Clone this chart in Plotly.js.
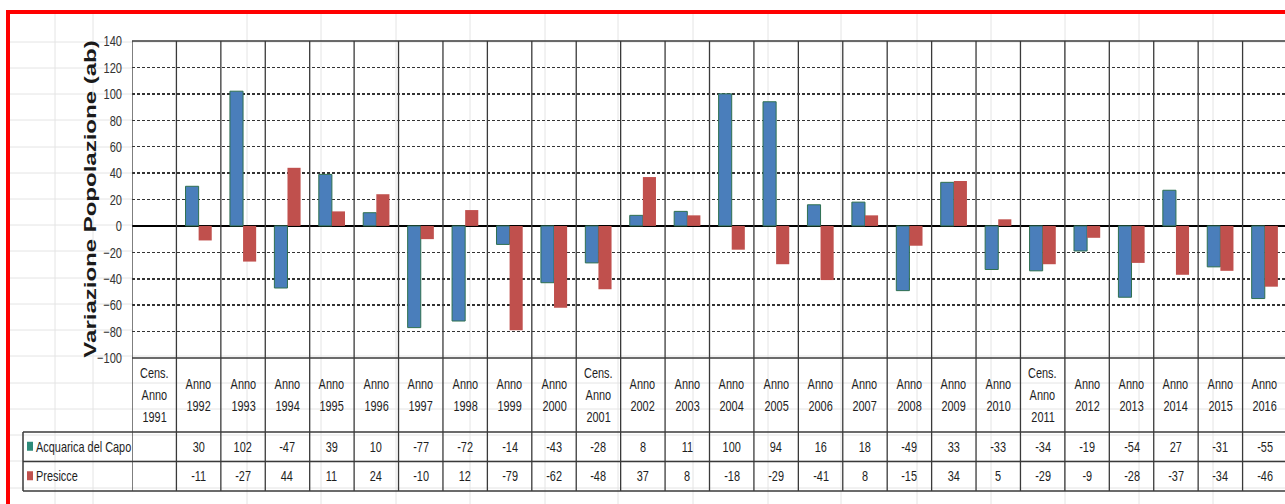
<!DOCTYPE html>
<html>
<head>
<meta charset="utf-8">
<script src="https://cdn.plot.ly/plotly-3.0.1.min.js"></script>
<style>
html,body{margin:0;padding:0;background:#fff;overflow:hidden;}
#chart{width:1292px;height:504px;}
</style>
</head>
<body>
<div id="chart"></div>
<script>
// ---- data ----
const categories = ["Cens. Anno 1991","Anno 1992","Anno 1993","Anno 1994","Anno 1995","Anno 1996","Anno 1997","Anno 1998","Anno 1999","Anno 2000","Cens. Anno 2001","Anno 2002","Anno 2003","Anno 2004","Anno 2005","Anno 2006","Anno 2007","Anno 2008","Anno 2009","Anno 2010","Cens. Anno 2011","Anno 2012","Anno 2013","Anno 2014","Anno 2015","Anno 2016"];
const seriesNames = ["Acquarica del Capo","Presicce"];
const acquarica = [null,30,102,-47,39,10,-77,-72,-14,-43,-28,8,11,100,94,16,18,-49,33,-33,-34,-19,-54,27,-31,-55];
const presicce  = [null,-11,-27,44,11,24,-10,12,-79,-62,-48,37,8,-18,-29,-41,8,-15,34,5,-29,-9,-28,-37,-34,-46];
const yTitle = "Variazione Popolazione (ab)";

// ---- layout geometry (pixels) ----
const W = 1292, H = 504;
const L = 132, R = 1287, T = 41, B = 491;
const chartBottom = 358, labelBottom = 432, row1Bottom = 461.5;
const px2x = p => (p - L) / (R - L);
const px2y = p => (B - p) / (B - T);

const FONT = '"Liberation Sans", Arial, sans-serif';
const TXT = '#1e1e1e', LINE = '#3a3a3a';
const BLUE = '#4a7ebb', BLUE_EDGE = '#2f7050', TEAL = '#2e8b7a', RED = '#c0504d';

const traces = [
  {type:'bar', name:seriesNames[0], x:categories, y:acquarica,
   marker:{color:BLUE, line:{color:BLUE_EDGE, width:1}}, hoverinfo:'x+y'},
  {type:'bar', name:seriesNames[1], x:categories, y:presicce,
   marker:{color:RED, line:{color:RED, width:0}}, hoverinfo:'x+y'}
];

const shapes = [];
const annotations = [];

// faint spreadsheet grid behind everything
const sheetCols = [55, 93, 247, 321, 396, 470, 545, 618, 693, 768, 841, 917, 991, 1065, 1139, 1213];
const sheetRows = [42, 68, 94, 120, 147, 173, 199, 225, 251, 278, 304, 330, 356, 383, 409, 435, 461, 488];
sheetCols.forEach(c => shapes.push({type:'line', xref:'paper', yref:'paper', layer:'below',
  x0:px2x(c), x1:px2x(c), y0:px2y(14), y1:px2y(510), line:{color:'#e4e4e4', width:1}}));
sheetRows.forEach(r => {
  const inside = r > T + 2 && r < chartBottom - 2;
  shapes.push({type:'line', xref:'paper', yref:'paper', layer:'below',
    x0:px2x(10), x1: inside ? 0 : px2x(1300), y0:px2y(r), y1:px2y(r), line:{color:'#e4e4e4', width:1}});
});

// vertical category boundaries through chart and table
for (let k = 0; k <= categories.length; k++) {
  shapes.push({type:'line', xref:'x', yref:'paper', layer:'above',
    x0:k-0.5, x1:k-0.5, y0:0, y1:1, line:{color:LINE, width:1.3}});
}
// horizontal frame/table lines
shapes.push({type:'line', xref:'paper', yref:'paper', x0:0, x1:1.01, y0:1, y1:1, line:{color:LINE, width:1.5}});
shapes.push({type:'line', xref:'paper', yref:'paper', x0:0, x1:1.01, y0:px2y(chartBottom), y1:px2y(chartBottom), line:{color:LINE, width:1.5}});
[labelBottom, row1Bottom, B].forEach(p => shapes.push({type:'line', xref:'paper', yref:'paper',
  x0:px2x(23), x1:1.01, y0:px2y(p), y1:px2y(p), line:{color:LINE, width:1.5}}));
shapes.push({type:'line', xref:'paper', yref:'paper', x0:px2x(23), x1:px2x(23),
  y0:px2y(labelBottom), y1:px2y(B), line:{color:LINE, width:1.5}});

// legend keys in table
const rowMid = [(labelBottom + row1Bottom)/2, (row1Bottom + B)/2];
[TEAL, RED].forEach((c, i) => shapes.push({type:'rect', xref:'paper', yref:'paper',
  x0:px2x(27), x1:px2x(33), y0:px2y(rowMid[i]-5), y1:px2y(rowMid[i]+4),
  fillcolor:c, line:{width:0}}));
seriesNames.forEach((n, i) => annotations.push({xref:'paper', yref:'paper',
  x:px2x(34), y:px2y(rowMid[i]), xanchor:'left', yanchor:'middle', showarrow:false,
  text:n, font:{family:FONT, size:14, color:TXT}, name:'legendlabel'}));

// red frame
shapes.push({type:'path', xref:'paper', yref:'paper', layer:'above',
  path:`M ${px2x(8)} ${px2y(520)} L ${px2x(8)} ${px2y(12)} L ${px2x(1300)} ${px2y(12)}`,
  line:{color:'#ff0000', width:4}});

// category labels (one annotation per line) and table values
const labelMid = (chartBottom + labelBottom)/2;
const lineGap = 22;
categories.forEach((c, k) => {
  const lines = c.split(' ');
  lines.forEach((ln, j) => {
    const off = (j - (lines.length - 1)/2) * lineGap;
    annotations.push({xref:'x', yref:'paper', x:c, y:px2y(labelMid + off),
      xanchor:'center', yanchor:'middle', showarrow:false, text:ln,
      font:{family:FONT, size:14, color:TXT}});
  });
  [acquarica, presicce].forEach((s, i) => {
    if (s[k] === null) return;
    annotations.push({xref:'x', yref:'paper', x:c, y:px2y(rowMid[i]),
      xanchor:'center', yanchor:'middle', showarrow:false, text:String(s[k]),
      font:{family:FONT, size:14, color:TXT}});
  });
});

const layout = {
  width:W, height:H,
  margin:{l:L, r:W-R, t:T, b:H-B, pad:0},
  paper_bgcolor:'#ffffff', plot_bgcolor:'rgba(0,0,0,0)',
  showlegend:false,
  barmode:'group', bargap:0.41, bargroupgap:0,
  xaxis:{type:'category', range:[-0.5, categories.length-0.5], showticklabels:false,
    showgrid:false, zeroline:false, showline:false, ticks:'', fixedrange:true},
  yaxis:{domain:[px2y(chartBottom), 1], range:[-100, 140], dtick:20, tick0:0,
    showgrid:true, gridcolor:'#333333', gridwidth:1.5, griddash:'3px,2px',
    zeroline:true, zerolinecolor:'#000', zerolinewidth:2,
    showline:false, ticks:'', ticklabelstandoff:9,
    tickfont:{family:FONT, size:15, color:'#333'},
    title:{text:yTitle, font:{family:FONT, size:24, color:'#1a1a1a', weight:700}, standoff:4},
    fixedrange:true},
  shapes:shapes, annotations:annotations
};

function squeeze(el, sx, anchor) {
  const b = el.getBBox();
  const ax = anchor === 'left' ? b.x : anchor === 'right' ? b.x + b.width : b.x + b.width/2;
  const tr = el.getAttribute('transform') || '';
  el.setAttribute('transform', tr + ` translate(${ax},0) scale(${sx},1) translate(${-ax},0)`);
}

Plotly.newPlot('chart', traces, layout, {displayModeBar:false, staticPlot:true}).then(gd => {
  // condensed look of the original spreadsheet fonts
  gd.querySelectorAll('.annotation-text').forEach(el => {
    const isLegend = seriesNames.includes(el.textContent);
    squeeze(el, 0.78, isLegend ? 'left' : 'center');
  });
  gd.querySelectorAll('.ytick text').forEach(el => squeeze(el, 0.74, 'right'));
  const t = gd.querySelector('.ytitle');
  if (!t) return;
  const b = t.getBBox();
  const cy = b.y + b.height/2;
  t.setAttribute('transform', t.getAttribute('transform') + ` translate(0,${cy}) scale(1,0.68) translate(0,${-cy})`);
  const r = t.getBoundingClientRect();
  const dx = 90 - (r.left + r.width/2), dy = 199 - (r.top + r.height/2);
  t.setAttribute('transform', `translate(${dx},${dy}) ` + t.getAttribute('transform'));
});
</script>
</body>
</html>
